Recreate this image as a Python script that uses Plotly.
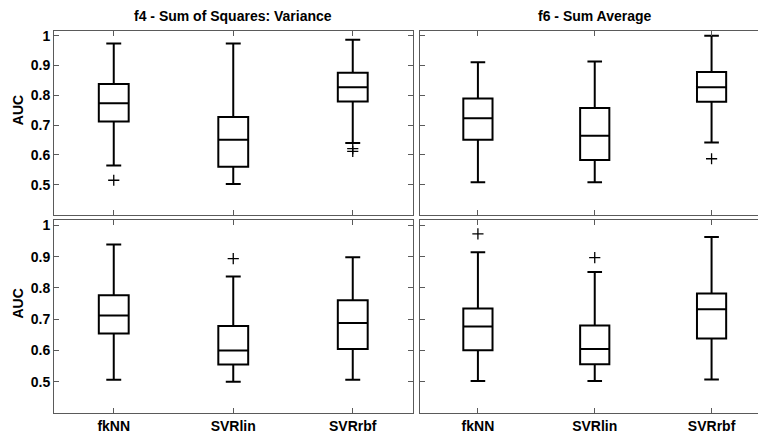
import plotly.graph_objects as go

methods = ["fkNN", "SVRlin", "SVRrbf"]

# Panel 1 (top-left): f4 - Sum of Squares: Variance
p1_lower = [0.564, 0.502, 0.640]
p1_q1 = [0.712, 0.560, 0.779]
p1_med = [0.773, 0.651, 0.827]
p1_q3 = [0.838, 0.727, 0.876]
p1_upper = [0.974, 0.974, 0.986]
p1_out_x = ["fkNN", "SVRrbf", "SVRrbf"]
p1_out_y = [0.515, 0.621, 0.612]

# Panel 2 (top-right): f6 - Sum Average
p2_lower = [0.508, 0.508, 0.642]
p2_q1 = [0.651, 0.583, 0.778]
p2_med = [0.723, 0.664, 0.827]
p2_q3 = [0.789, 0.757, 0.878]
p2_upper = [0.911, 0.913, 1.000]
p2_out_x = ["SVRrbf"]
p2_out_y = [0.587]

# Panel 3 (bottom-left)
p3_lower = [0.506, 0.500, 0.506]
p3_q1 = [0.654, 0.555, 0.605]
p3_med = [0.712, 0.600, 0.688]
p3_q3 = [0.777, 0.678, 0.761]
p3_upper = [0.939, 0.837, 0.898]
p3_out_x = ["SVRlin"]
p3_out_y = [0.894]

# Panel 4 (bottom-right)
p4_lower = [0.502, 0.502, 0.507]
p4_q1 = [0.601, 0.556, 0.638]
p4_med = [0.677, 0.605, 0.732]
p4_q3 = [0.734, 0.680, 0.782]
p4_upper = [0.914, 0.851, 0.963]
p4_out_x = ["fkNN", "SVRlin"]
p4_out_y = [0.973, 0.897]

titles = ["f4 - Sum of Squares: Variance", "f6 - Sum Average"]
y_label = "AUC"
y_ticks = [0.5, 0.6, 0.7, 0.8, 0.9, 1.0]
y_ticktext = ["0.5", "0.6", "0.7", "0.8", "0.9", "1"]

FONT = "Liberation Sans, Arial, sans-serif"
FRAME = "#5a5a5a"

panels = [
    (p1_lower, p1_q1, p1_med, p1_q3, p1_upper, p1_out_x, p1_out_y, "x", "y"),
    (p2_lower, p2_q1, p2_med, p2_q3, p2_upper, p2_out_x, p2_out_y, "x2", "y2"),
    (p3_lower, p3_q1, p3_med, p3_q3, p3_upper, p3_out_x, p3_out_y, "x3", "y3"),
    (p4_lower, p4_q1, p4_med, p4_q3, p4_upper, p4_out_x, p4_out_y, "x4", "y4"),
]

fig = go.Figure()
for lo, q1, md, q3, up, ox, oy, xa, ya in panels:
    fig.add_trace(go.Box(
        x=methods, q1=q1, median=md, q3=q3, lowerfence=lo, upperfence=up,
        xaxis=xa, yaxis=ya, width=0.25, whiskerwidth=0.5,
        fillcolor="white", line=dict(color="black", width=2),
        boxpoints=False, showlegend=False, hoverinfo="skip",
    ))
    fig.add_trace(go.Scatter(
        x=ox, y=oy, xaxis=xa, yaxis=ya, mode="markers",
        marker=dict(symbol="cross-thin", size=8, color="black",
                    line=dict(color="black", width=1.3)),
        showlegend=False, hoverinfo="skip",
    ))

W, H = 758, 435
ml, mr, mt, mb = 54, 0, 31, 22
pw = W - ml - mr
ph = H - mt - mb
left_dom = [0, (412.5 - ml) / pw]
right_dom = [(419.5 - ml) / pw, 1]
top_dom = [(413 - 214.5) / ph, 1]
bot_dom = [0, (413 - 219.5) / ph]

tickfont = dict(family=FONT, size=14, color="black", weight="bold")

def xax(dom, rng, labels, mirror):
    return dict(domain=dom, range=rng, type="category", categoryorder="array",
                categoryarray=methods, showline=True, linecolor=FRAME, linewidth=1,
                mirror=mirror, ticks="inside", ticklen=5, tickcolor=FRAME,
                showticklabels=labels, tickfont=tickfont, showgrid=False,
                zeroline=False, fixedrange=True)

def yax(dom, rng, labels, mirror):
    return dict(domain=dom, range=rng, tickvals=y_ticks, ticktext=y_ticktext,
                showline=True, linecolor=FRAME, linewidth=1, mirror=mirror,
                ticks="inside", ticklen=5, tickcolor=FRAME,
                showticklabels=labels, tickfont=tickfont, showgrid=False,
                zeroline=False, fixedrange=True)

right_rng = [-0.5, -0.5 + 339 / 117]
fig.update_layout(
    width=W, height=H,
    margin=dict(l=ml, r=mr, t=mt, b=mb, pad=0),
    paper_bgcolor="white", plot_bgcolor="white",
    font=dict(family=FONT, color="black"),
    xaxis=xax(left_dom, [-0.5, 2.5], False, "ticks") | dict(anchor="y"),
    xaxis2=xax(right_dom, right_rng, False, "ticks") | dict(anchor="y2"),
    xaxis3=xax(left_dom, [-0.5, 2.5], True, "ticks") | dict(anchor="y3"),
    xaxis4=xax(right_dom, right_rng, True, "ticks") | dict(anchor="y4"),
    yaxis=yax(top_dom, [0.4, 1.0157], True, "ticks") | dict(anchor="x"),
    yaxis2=yax(top_dom, [0.4, 1.0157], False, False) | dict(anchor="x2"),
    yaxis3=yax(bot_dom, [0.4, 1.019], True, "ticks") | dict(anchor="x3"),
    yaxis4=yax(bot_dom, [0.4, 1.019], False, False) | dict(anchor="x4"),
)

ann_font = dict(family=FONT, size=14, color="black", weight="bold")
fig.add_annotation(text=titles[0], xref="x domain", yref="paper", x=0.5,
                   y=1 + 15 / ph, xanchor="center", yanchor="middle",
                   showarrow=False, font=ann_font)
fig.add_annotation(text=titles[1], xref="x2", yref="paper", x=1,
                   y=1 + 15 / ph, xanchor="center", yanchor="middle",
                   showarrow=False, font=ann_font)
for ya in ["y", "y3"]:
    fig.add_annotation(text=y_label, xref="paper", yref=ya, x=(18 - ml) / pw,
                       y=0.75, xanchor="center", yanchor="middle", textangle=-90,
                       showarrow=False, font=ann_font)

fig.write_html("out.html", config={"displayModeBar": False},
               post_script="document.body.style.margin='0';document.body.style.overflow='hidden';")
